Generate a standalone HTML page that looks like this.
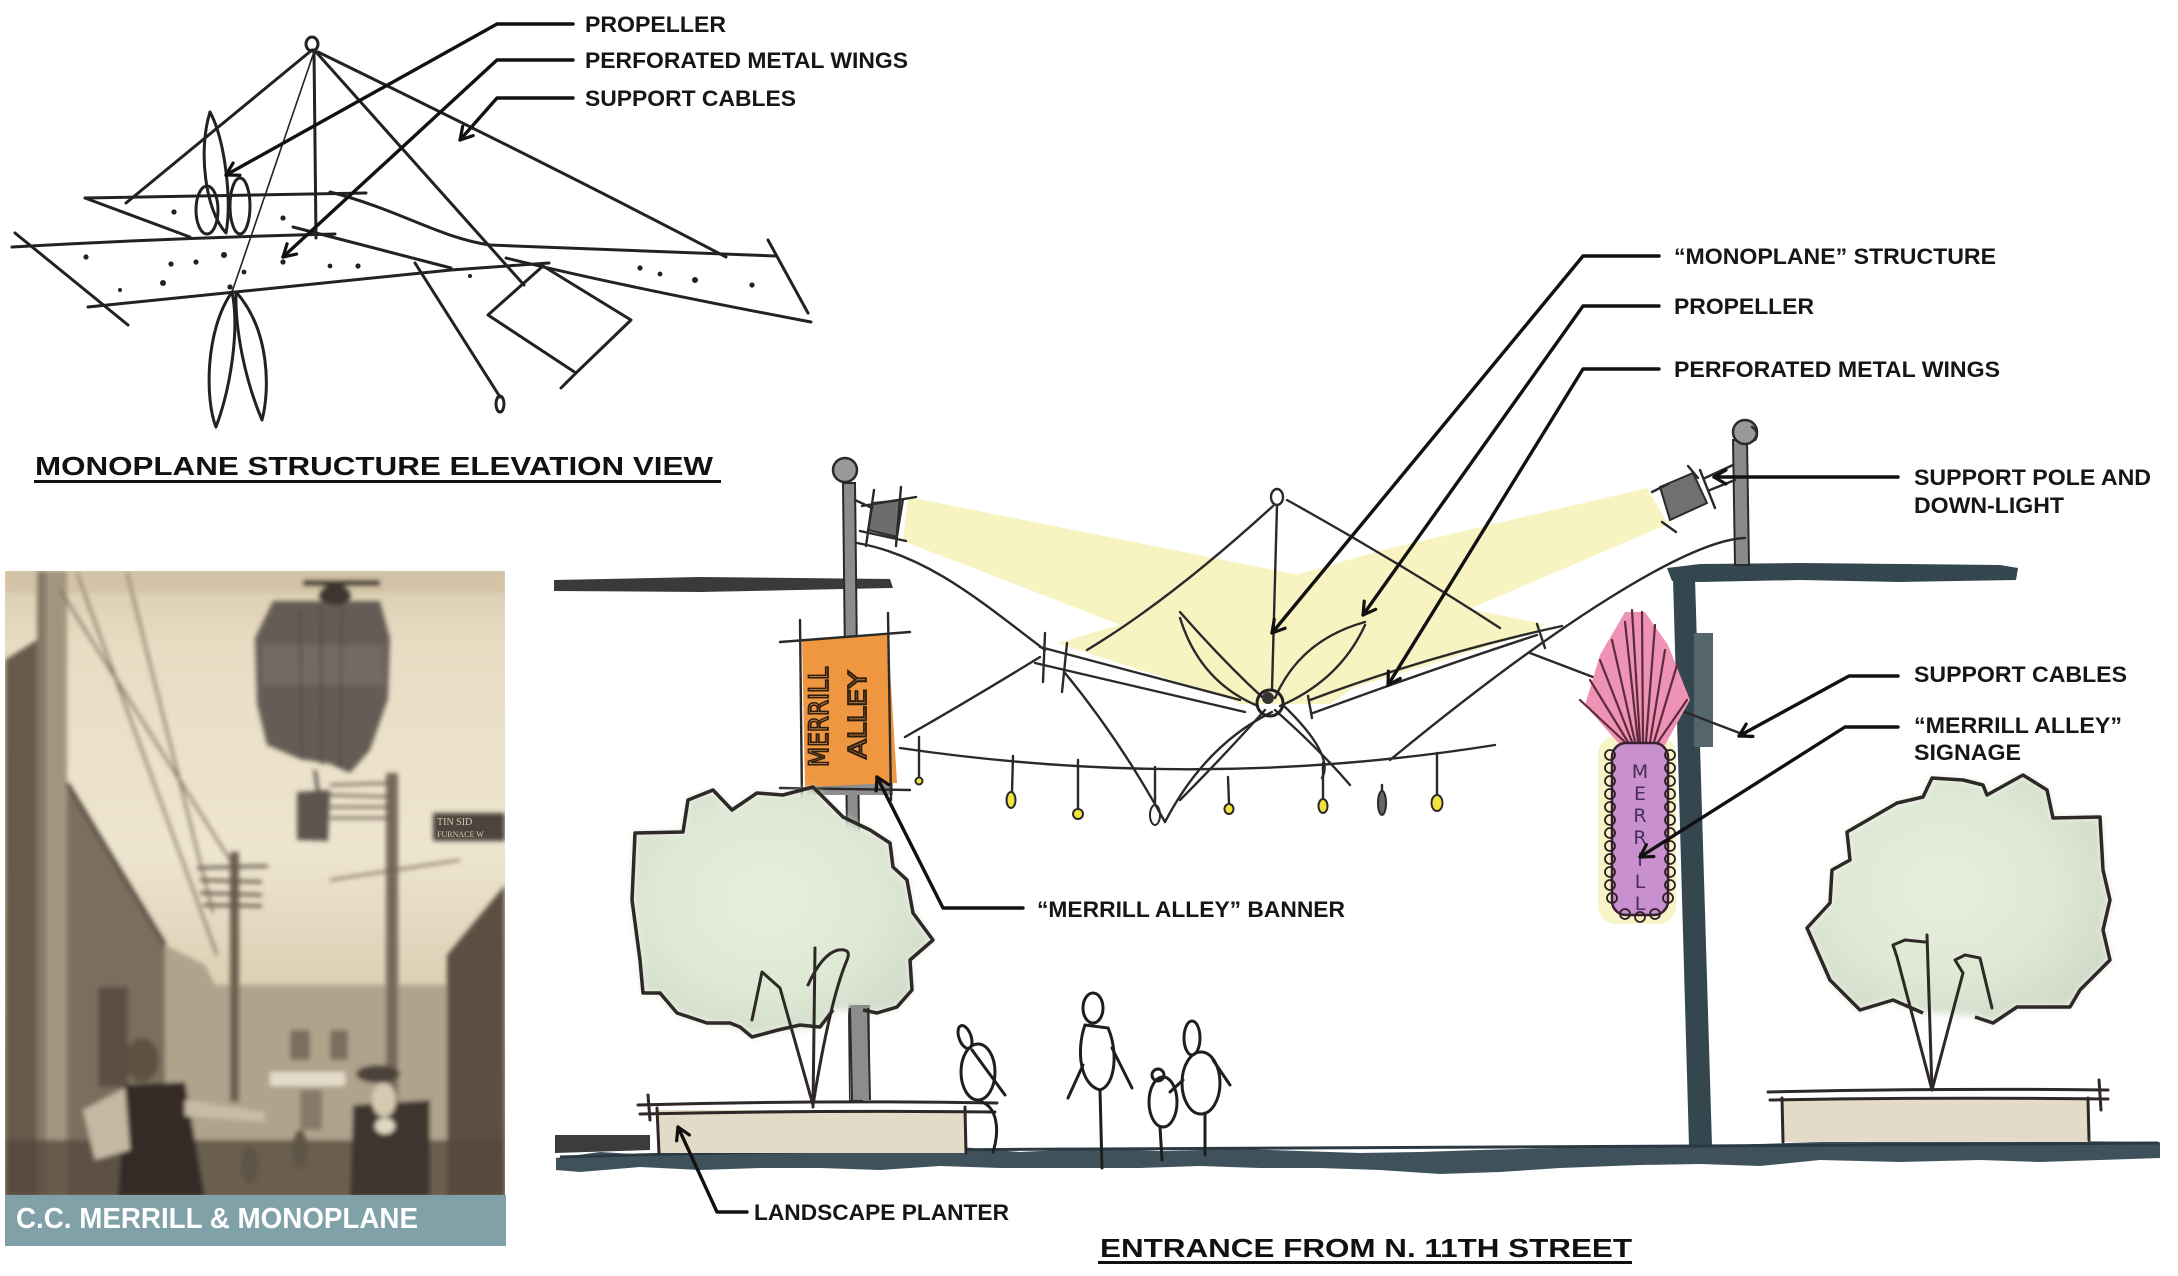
<!DOCTYPE html>
<html>
<head>
<meta charset="utf-8">
<style>
html,body{margin:0;padding:0;background:#fff;}
body{width:2178px;height:1276px;overflow:hidden;}
svg{display:block;}
.lbl{font-family:"Liberation Sans",Arial,sans-serif;font-weight:bold;font-size:22px;fill:#161616;}
.hd{font-family:"Liberation Sans",Arial,sans-serif;font-weight:bold;font-size:26px;fill:#111;}
.sk{fill:none;stroke:#222;stroke-width:3;stroke-linecap:round;stroke-linejoin:round;}
.tn{fill:none;stroke:#2a2a2a;stroke-width:2.4;stroke-linecap:round;stroke-linejoin:round;}
.ld{fill:none;stroke:#111;stroke-width:3.4;stroke-linecap:round;stroke-linejoin:round;}
</style>
</head>
<body>
<svg width="2178" height="1276" viewBox="0 0 2178 1276" xmlns="http://www.w3.org/2000/svg">
<defs>
  <marker id="ah" markerWidth="24" markerHeight="24" refX="15" refY="9" orient="auto" markerUnits="userSpaceOnUse">
    <path d="M3,2 L15,9 L3,16" fill="none" stroke="#111" stroke-width="3.2" stroke-linecap="round" stroke-linejoin="round"/>
  </marker>
  <filter id="soft" x="-5%" y="-5%" width="110%" height="110%"><feGaussianBlur stdDeviation="2.5"/></filter>
  <filter id="soft2" x="-5%" y="-5%" width="110%" height="110%"><feGaussianBlur stdDeviation="4"/></filter>
  <clipPath id="pc"><rect x="5" y="571" width="500" height="624"/></clipPath>
  <linearGradient id="sky" x1="0" y1="0" x2="0" y2="1">
    <stop offset="0" stop-color="#d9cbae"/>
    <stop offset="0.12" stop-color="#e8dcc3"/>
    <stop offset="0.45" stop-color="#eee5cf"/>
    <stop offset="0.7" stop-color="#d8cbb0"/>
    <stop offset="1" stop-color="#a89a82"/>
  </linearGradient>
  <radialGradient id="treeg" cx="0.45" cy="0.45" r="0.6">
    <stop offset="0" stop-color="#e6eedd"/>
    <stop offset="0.6" stop-color="#dfe8d5"/>
    <stop offset="1" stop-color="#d2dbc9"/>
  </radialGradient>
</defs>

<rect width="2178" height="1276" fill="#fff"/>

<!-- ================= TOP-LEFT SKETCH ================= -->
<g class="sk">
  <ellipse cx="312" cy="44" rx="6" ry="7"/>
  <path d="M312,50 L126,203"/>
  <path d="M314,50 L316,238"/>
  <path d="M314,52 L232,292" style="stroke-width:1.6"/>
  <path d="M316,52 L524,285"/>
  <path d="M318,52 Q560,170 726,257"/>
  <path d="M415,263 L500,397"/>
  <ellipse cx="500" cy="404" rx="4" ry="8"/>
  <path d="M85,198 L366,193"/>
  <path d="M85,198 L190,237"/>
  <path d="M12,247 Q170,238 335,234"/>
  <path d="M330,192 C400,210 440,238 490,245 L775,256"/>
  <path d="M88,307 Q300,286 451,270 L549,263"/>
  <path d="M506,258 Q620,286 811,322"/>
  <path d="M768,240 L808,313"/>
  <path d="M15,233 L128,325"/>
  <path d="M293,227 L451,268"/>
  <path d="M543,266 L631,320 L576,373 L488,315 Z"/>
  <path d="M576,373 L561,388"/>
  <path d="M210,112 C198,150 205,210 226,233 C232,200 225,140 210,112"/>
  <ellipse cx="207" cy="210" rx="11" ry="24"/>
  <ellipse cx="240" cy="206" rx="10" ry="28"/>
  <path d="M232,292 C205,330 205,400 216,427 C230,390 240,330 232,292"/>
  <path d="M236,292 C270,330 270,390 262,420 C245,380 235,330 236,292"/>
</g>
<g fill="#222">
  <circle cx="86" cy="257" r="2.6"/><circle cx="171" cy="264" r="2.6"/><circle cx="163" cy="283" r="3"/>
  <circle cx="196" cy="262" r="2.6"/><circle cx="224" cy="255" r="3"/><circle cx="244" cy="272" r="2.4"/>
  <circle cx="230" cy="287" r="2.6"/><circle cx="283" cy="262" r="2.6"/><circle cx="330" cy="266" r="2.4"/>
  <circle cx="358" cy="266" r="2.6"/><circle cx="470" cy="276" r="2"/><circle cx="640" cy="268" r="2.6"/>
  <circle cx="660" cy="274" r="2.4"/><circle cx="695" cy="280" r="3"/><circle cx="752" cy="285" r="2.6"/>
  <circle cx="174" cy="212" r="2.6"/><circle cx="283" cy="218" r="2.6"/><circle cx="120" cy="290" r="2"/>
</g>
<path class="ld" d="M573,24 L497,24 L226,175" marker-end="url(#ah)"/>
<path class="ld" d="M573,60 L497,60 L283,257" marker-end="url(#ah)"/>
<path class="ld" d="M573,98 L497,98 L460,140" marker-end="url(#ah)"/>
<text class="lbl" x="585" y="32" textLength="141" lengthAdjust="spacingAndGlyphs">PROPELLER</text>
<text class="lbl" x="585" y="68" textLength="323" lengthAdjust="spacingAndGlyphs">PERFORATED METAL WINGS</text>
<text class="lbl" x="585" y="106" textLength="211" lengthAdjust="spacingAndGlyphs">SUPPORT CABLES</text>

<text class="hd" x="35" y="475" textLength="678" lengthAdjust="spacingAndGlyphs">MONOPLANE STRUCTURE ELEVATION VIEW</text>
<rect x="34" y="480" width="687" height="3" fill="#111"/>

<!-- ================= PHOTO ================= -->
<g clip-path="url(#pc)">
  <rect x="5" y="571" width="500" height="624" fill="url(#sky)"/>
  <g filter="url(#soft)">
    <rect x="5" y="571" width="500" height="22" fill="#cdbd9e" opacity="0.6"/>
    <polygon points="5,660 37,640 37,1197 5,1197" fill="#665a4c"/>
    <rect x="37" y="571" width="30" height="626" fill="#a19581"/>
    <rect x="37" y="571" width="9" height="626" fill="#857868"/>
    <polygon points="67,783 165,945 165,1197 67,1197" fill="#7a6e5e"/>
    <line x1="67" y1="783" x2="165" y2="945" stroke="#4f453a" stroke-width="4"/>
    <rect x="98" y="987" width="30" height="100" fill="#5a4f43"/>
    <polygon points="165,945 205,965 215,985 450,985 450,1197 165,1197" fill="#b0a38c"/>
    <rect x="290" y="1030" width="20" height="30" fill="#7a6e5f"/>
    <rect x="330" y="1030" width="18" height="30" fill="#7a6e5f"/>
    <rect x="300" y="1090" width="22" height="40" fill="#857967"/>
    <rect x="270" y="1072" width="75" height="14" fill="#e4dccb"/>
    <polygon points="447,955 505,885 505,1197 447,1197" fill="#5b4f43"/>
    <rect x="433" y="813" width="72" height="28" fill="#4b443d"/>
    <rect x="230" y="852" width="9" height="250" fill="#6a5e50"/>
    <g stroke="#5f5446" stroke-width="3">
      <line x1="197" y1="868" x2="268" y2="866"/><line x1="200" y1="880" x2="262" y2="882"/>
      <line x1="200" y1="893" x2="262" y2="895"/><line x1="203" y1="905" x2="262" y2="906"/>
    </g>
    <rect x="386" y="773" width="12" height="424" fill="#75695a"/>
    <g stroke="#6d6152" stroke-width="2.5">
      <line x1="330" y1="785" x2="392" y2="783"/><line x1="330" y1="795" x2="392" y2="797"/>
      <line x1="330" y1="807" x2="392" y2="807"/><line x1="330" y1="818" x2="392" y2="818"/>
    </g>
    <g stroke="#6d6152" stroke-width="2">
      <line x1="77" y1="573" x2="217" y2="955"/><line x1="127" y1="573" x2="213" y2="913"/>
      <line x1="60" y1="590" x2="230" y2="860"/><line x1="330" y1="880" x2="460" y2="860"/>
    </g>
    <polygon points="273,601 380,601 390,638 388,699 370,750 350,773 330,764 300,759 267,745 257,704 255,638" fill="#655d55"/>
    <rect x="262" y="645" width="122" height="40" fill="#7d756b" opacity="0.6"/>
    <g stroke="#4a433c" stroke-width="1.6">
      <line x1="300" y1="610" x2="302" y2="760"/><line x1="320" y1="606" x2="322" y2="765"/>
      <line x1="342" y1="606" x2="340" y2="768"/>
    </g>
    <line x1="315" y1="770" x2="318" y2="792" stroke="#4a433c" stroke-width="3"/>
    <polygon points="297,792 330,790 328,841 297,840" fill="#5d554d"/>
    <line x1="303" y1="583" x2="380" y2="583" stroke="#3e362f" stroke-width="6"/>
    <ellipse cx="335" cy="595" rx="16" ry="10" fill="#3e362f"/>
    <rect x="5" y="1140" width="500" height="57" fill="#54483c" opacity="0.75"/>
    <ellipse cx="142" cy="1060" rx="17" ry="22" fill="#5e5143"/>
    <polygon points="125,1085 185,1082 205,1197 118,1197" fill="#352c25"/>
    <polygon points="83,1110 125,1088 130,1150 95,1160" fill="#c4b8a2"/>
    <polygon points="185,1100 265,1112 265,1122 185,1116" fill="#c9bca5"/>
    <polygon points="353,1105 430,1100 430,1197 350,1197" fill="#3f362e"/>
    <ellipse cx="378" cy="1074" rx="22" ry="9" fill="#4d433a"/>
    <ellipse cx="384" cy="1100" rx="12" ry="17" fill="#d6c9b0"/>
    <ellipse cx="385" cy="1126" rx="10" ry="8" fill="#e0d6c2"/>
    <ellipse cx="300" cy="1150" rx="8" ry="20" fill="#5f5446"/>
    <ellipse cx="330" cy="1160" rx="7" ry="18" fill="#6a5e50"/>
    <ellipse cx="250" cy="1165" rx="9" ry="20" fill="#5f5446"/>
  </g>
  <text x="437" y="825" font-family="Liberation Serif,serif" font-size="10" fill="#d8ccb5">TIN SID</text>
  <text x="437" y="837" font-family="Liberation Serif,serif" font-size="8" fill="#d8ccb5">FURNACE W</text>
</g>
<rect x="5" y="1195" width="501" height="51" fill="#7fa1a7"/>
<text x="16" y="1228" font-family="Liberation Sans,Arial,sans-serif" font-weight="bold" font-size="29" fill="#fff" textLength="402" lengthAdjust="spacingAndGlyphs">C.C. MERRILL &amp; MONOPLANE</text>

<!-- ================= MAIN SCENE ================= -->
<polygon points="908,497 1545,624 1535,632 1300,704 1240,704 1123,626 903,541" fill="#f8f4c2"/>
<polygon points="1647,488 1668,524 1465,611 1330,704 1245,704 1057,643 1383,550" fill="#f8f4c2"/>

<polygon points="554,580 700,577 890,579 893,588 700,592 554,591" fill="#3a3a3a"/>

<polygon points="1667,568 1700,564 1800,563 1900,564 2000,565 2018,568 2016,580 1900,582 1800,580 1700,582 1672,581" fill="#34474f"/>
<polygon points="1673,578 1695,578 1712,1146 1689,1146" fill="#34474f"/>
<rect x="1694" y="633" width="19" height="114" fill="#55656c"/>
<polygon points="1733,440 1747,440 1749,565 1735,565" fill="#8a8a8a" stroke="#2a2a2a" stroke-width="2"/>
<circle cx="1745" cy="432" r="12" fill="#999" stroke="#2a2a2a" stroke-width="2.5"/>
<path class="tn" d="M1752,427 Q1760,432 1755,440"/>
<polygon points="1660,487 1693,473 1707,503 1670,520" fill="#707070" stroke="#2a2a2a" stroke-width="2"/>
<g class="tn">
  <path d="M1652,492 L1668,484"/><path d="M1662,522 L1676,532"/><path d="M1688,466 L1698,478"/>
  <path d="M1705,478 L1733,465"/><path d="M1710,490 L1735,480"/><path d="M1700,470 L1715,508"/>
</g>

<polygon points="843,483 855,483 862,1100 850,1100" fill="#8c8c8c" stroke="#2a2a2a" stroke-width="2"/>
<circle cx="845" cy="470" r="12" fill="#999" stroke="#2a2a2a" stroke-width="2.5"/>
<polygon points="873,503 903,500 897,537 868,530" fill="#6d6d6d" stroke="#2a2a2a" stroke-width="2"/>
<g class="tn">
  <path d="M862,506 L916,497"/><path d="M860,531 L906,541"/><path d="M874,490 L866,546"/><path d="M901,487 L896,546"/>
  <path d="M855,500 L872,508"/>
</g>

<g class="tn">
  <path d="M857,543 C930,556 985,605 1045,650"/>
  <ellipse cx="1277" cy="497" rx="6" ry="8"/>
  <path d="M1277,505 L1272,690"/>
  <path d="M1273,506 Q1170,600 1087,650"/>
  <path d="M1287,500 Q1395,560 1500,628"/>
  <path d="M1040,647 L1240,700"/>
  <path d="M1035,663 L1245,712"/>
  <path d="M1045,633 L1043,682"/><path d="M1067,643 L1062,692"/>
  <path d="M1310,700 Q1430,655 1562,626"/>
  <path d="M1313,713 Q1430,670 1537,635"/>
  <path d="M1537,624 L1545,648"/><path d="M1308,696 L1312,718"/>
  <path d="M1180,612 Q1222,660 1262,697"/>
  <path d="M1180,618 Q1200,682 1258,706"/>
  <path d="M1275,698 Q1300,640 1365,622"/>
  <path d="M1280,706 Q1340,680 1365,625"/>
  <path d="M1265,710 Q1220,760 1180,800"/>
  <path d="M1272,712 Q1205,745 1165,822"/>
  <path d="M1275,710 Q1320,750 1350,785"/>
  <path d="M1283,705 Q1335,755 1322,778"/>
  <path d="M1065,673 Q1120,740 1165,822"/>
  <path d="M905,737 Q970,700 1040,657"/>
  <path d="M900,748 Q1200,792 1495,745"/>
  <path d="M1745,538 C1690,540 1560,620 1390,760"/>
  <path d="M1530,653 L1750,737"/>
</g>
<circle cx="1270" cy="703" r="13" fill="none" stroke="#222" stroke-width="3"/>
<circle cx="1268" cy="698" r="6" fill="#333"/>

<g class="tn">
  <path d="M919,737 L919,778"/><path d="M1013,756 L1012,792"/><path d="M1078,760 L1078,809"/>
  <path d="M1155,767 L1155,805"/><path d="M1228,777 L1229,803"/><path d="M1323,763 L1323,798"/>
  <path d="M1382,785 L1382,803"/><path d="M1437,753 L1437,795"/>
</g>
<g stroke="#2a2a2a" stroke-width="2">
  <circle cx="919" cy="781" r="3.5" fill="#f2e43a"/>
  <ellipse cx="1011" cy="800" rx="4.5" ry="8" fill="#f2e43a"/>
  <ellipse cx="1078" cy="814" rx="5" ry="5" fill="#f2e43a"/>
  <ellipse cx="1155" cy="815" rx="5" ry="10" fill="none"/>
  <ellipse cx="1229" cy="809" rx="4.5" ry="5" fill="#f2e43a"/>
  <ellipse cx="1323" cy="806" rx="4.5" ry="7" fill="#f2e43a"/>
  <ellipse cx="1382" cy="803" rx="4" ry="12" fill="#666"/>
  <ellipse cx="1437" cy="803" rx="5.5" ry="8" fill="#f2e43a"/>
</g>

<rect x="807" y="783" width="86" height="12" fill="#8e8e8e"/>
<polygon points="802,640 888,635 897,783 805,787" fill="#ef9641"/>
<g class="tn">
  <path d="M780,642 L910,632"/><path d="M780,788 L910,790"/>
  <path d="M800,620 L802,803"/><path d="M888,613 L891,800"/>
</g>
<text transform="translate(828,717) rotate(-90)" text-anchor="middle" font-family="DejaVu Sans,sans-serif" font-size="27" fill="none" stroke="#2a1d12" stroke-width="1.8" textLength="100" lengthAdjust="spacingAndGlyphs">MERRILL</text>
<text transform="translate(866,715) rotate(-90)" text-anchor="middle" font-family="DejaVu Sans,sans-serif" font-size="25" fill="none" stroke="#2a1d12" stroke-width="1.8" textLength="88" lengthAdjust="spacingAndGlyphs">ALLEY</text>

<rect x="1598" y="736" width="78" height="188" rx="18" fill="#f7f4c8"/>
<polygon points="1585,705 1600,655 1625,612 1645,612 1668,645 1690,700 1665,745 1620,745" fill="#ee93b5"/>
<g stroke="#5e2a3c" stroke-width="2.2" stroke-linecap="round">
  <line x1="1625" y1="742" x2="1580" y2="700"/><line x1="1628" y1="742" x2="1590" y2="680"/>
  <line x1="1632" y1="742" x2="1600" y2="660"/><line x1="1635" y1="742" x2="1612" y2="640"/>
  <line x1="1638" y1="742" x2="1625" y2="622"/><line x1="1640" y1="742" x2="1632" y2="610"/>
  <line x1="1643" y1="742" x2="1642" y2="612"/><line x1="1646" y1="742" x2="1655" y2="625"/>
  <line x1="1650" y1="742" x2="1665" y2="650"/><line x1="1654" y1="742" x2="1677" y2="665"/>
  <line x1="1658" y1="742" x2="1687" y2="700"/>
</g>
<rect x="1612" y="743" width="56" height="172" rx="14" fill="#c990d0" stroke="#3a2030" stroke-width="2.5"/>
<g fill="none" stroke="#2d2020" stroke-width="1.8">
  <circle cx="1610" cy="755" r="5"/><circle cx="1610" cy="768" r="5"/><circle cx="1610" cy="781" r="5"/>
  <circle cx="1610" cy="794" r="5"/><circle cx="1610" cy="807" r="5"/><circle cx="1610" cy="820" r="5"/>
  <circle cx="1610" cy="833" r="5"/><circle cx="1610" cy="846" r="5"/><circle cx="1610" cy="859" r="5"/>
  <circle cx="1610" cy="872" r="5"/><circle cx="1610" cy="885" r="5"/><circle cx="1612" cy="898" r="5"/>
  <circle cx="1670" cy="755" r="5"/><circle cx="1670" cy="768" r="5"/><circle cx="1670" cy="781" r="5"/>
  <circle cx="1670" cy="794" r="5"/><circle cx="1670" cy="807" r="5"/><circle cx="1670" cy="820" r="5"/>
  <circle cx="1670" cy="833" r="5"/><circle cx="1670" cy="846" r="5"/><circle cx="1670" cy="859" r="5"/>
  <circle cx="1670" cy="872" r="5"/><circle cx="1670" cy="885" r="5"/><circle cx="1668" cy="898" r="5"/>
  <circle cx="1625" cy="914" r="5"/><circle cx="1640" cy="917" r="5"/><circle cx="1655" cy="914" r="5"/>
</g>
<g font-family="DejaVu Sans,sans-serif" font-size="19" fill="#4a2d57" text-anchor="middle">
  <text x="1640" y="778">M</text><text x="1640" y="800">E</text><text x="1640" y="822">R</text>
  <text x="1640" y="844">R</text><text x="1640" y="866">I</text><text x="1640" y="888">L</text>
  <text x="1640" y="910">L</text>
</g>

<path d="M635,833 L683,832 L688,800 L713,790 L732,810 L757,793 L783,795 L813,787 L843,817 L870,830 L890,843 L893,867 L907,880 L913,913 L933,940 L910,960 L912,990 L897,1007 L877,1013 L860,1010 L835,1010 L820,1027 L778,1030 L752,1037 L740,1027 L707,1023 L677,1013 L660,993 L643,993 L640,960 L632,900 Z" fill="url(#treeg)" filter="url(#soft2)"/>
<rect x="850" y="1005" width="20" height="95" fill="#8c8c8c"/>
<path d="M850,1008 L852,1100 M868,1008 L870,1100" stroke="#2a2a2a" stroke-width="2" fill="none"/>
<path d="M863,1010 L877,1013 L897,1007 L912,990 L910,960 L933,940 L913,913 L907,880 L893,867 L890,843 L870,830 L843,817 L813,787 L783,795 L757,793 L732,810 L713,790 L688,800 L683,832 L635,833 L632,900 L640,960 L643,993 L660,993 L677,1013 L707,1023 L730,1023 L740,1027 L752,1037 L778,1030 L800,1025 L820,1027 L833,1010" fill="none" stroke="#2e2826" stroke-width="3.5" stroke-linejoin="round"/>
<g fill="none" stroke="#2e2826" stroke-width="3" stroke-linecap="round" stroke-linejoin="round">
  <path d="M813,1107 L815,948"/>
  <path d="M813,1105 L780,988 L762,972 L752,1020"/>
  <path d="M813,1105 Q830,1000 847,960 Q852,948 838,950 Q822,954 808,985"/>
</g>

<path d="M1807,928 L1830,903 L1832,870 L1850,860 L1847,832 L1897,803 L1923,797 L1932,778 L1963,780 L1983,785 L1987,795 L2023,775 L2047,790 L2053,818 L2100,817 L2103,870 L2110,900 L2103,930 L2110,960 L2080,990 L2070,1007 L2017,1007 L1993,1023 L1970,1015 L1923,1013 L1893,1000 L1860,1010 L1830,980 Z" fill="url(#treeg)" filter="url(#soft2)"/>
<path d="M1975,1017 L1993,1023 L2017,1007 L2070,1007 L2080,990 L2110,960 L2103,930 L2110,900 L2103,870 L2100,817 L2053,818 L2047,790 L2023,775 L1987,795 L1983,785 L1963,780 L1932,778 L1923,797 L1897,803 L1847,832 L1850,860 L1832,870 L1830,903 L1807,928 L1830,980 L1860,1010 L1893,1000 L1923,1013" fill="none" stroke="#2e2826" stroke-width="3.5" stroke-linejoin="round"/>
<g fill="none" stroke="#2e2826" stroke-width="3" stroke-linecap="round" stroke-linejoin="round">
  <path d="M1932,1090 L1927,935"/>
  <path d="M1932,1090 L1897,957 L1893,945 L1905,940 L1925,942"/>
  <path d="M1932,1090 L1963,973 L1955,960 L1965,955 L1980,958 L1992,1008"/>
</g>

<polygon points="555,1135 650,1135 650,1150 555,1153" fill="#3d3c3a"/>
<polygon points="556,1158 600,1152 650,1155 700,1149 760,1153 820,1150 900,1151 960,1147 1020,1152 1100,1148 1160,1151 1240,1149 1300,1151 1360,1153 1420,1152 1480,1150 1560,1148 1620,1146 1700,1146 1760,1144 1820,1142 1900,1141 1980,1140 2060,1141 2160,1142 2160,1158 2100,1160 2040,1162 1980,1160 1900,1162 1820,1160 1760,1166 1700,1164 1640,1165 1560,1168 1500,1172 1440,1174 1380,1170 1320,1168 1260,1168 1200,1166 1140,1168 1080,1168 1000,1168 940,1166 880,1170 820,1168 760,1168 700,1170 640,1167 580,1172 556,1170" fill="#3f525c"/>
<path d="M560,1157 Q800,1150 1100,1149 T1700,1146 T2158,1143" fill="none" stroke="#2b3a42" stroke-width="3"/>

<rect x="657" y="1110" width="308" height="43" fill="#e3dac8"/>
<g fill="none" stroke="#2e2826" stroke-width="3" stroke-linecap="round">
  <path d="M638,1105 Q820,1100 997,1103"/><path d="M640,1114 Q820,1110 995,1112"/>
  <path d="M657,1108 L659,1153"/><path d="M965,1107 L966,1153"/><path d="M648,1095 L650,1120"/>
</g>
<rect x="1782" y="1100" width="306" height="42" fill="#e3dac8"/>
<g fill="none" stroke="#2e2826" stroke-width="3" stroke-linecap="round">
  <path d="M1768,1092 Q1940,1088 2108,1090"/><path d="M1770,1100 Q1940,1097 2108,1099"/>
  <path d="M1782,1098 L1783,1142"/><path d="M2088,1098 L2089,1140"/><path d="M2099,1080 L2101,1110"/>
</g>

<g fill="none" stroke="#1e1e1e" stroke-width="3" stroke-linecap="round">
  <ellipse cx="965" cy="1037" rx="6" ry="12" transform="rotate(-20 965 1037)"/>
  <ellipse cx="978" cy="1072" rx="17" ry="28"/>
  <path d="M972,1050 L1005,1095"/>
  <path d="M982,1102 C997,1108 1000,1130 993,1152"/>
  <ellipse cx="1093" cy="1008" rx="10" ry="15"/>
  <path d="M1085,1025 C1076,1050 1080,1085 1100,1090 C1116,1085 1118,1050 1108,1028 Z"/>
  <path d="M1083,1065 L1068,1098"/><path d="M1112,1048 L1132,1088"/>
  <path d="M1100,1090 L1102,1168"/>
  <circle cx="1158" cy="1075" r="6"/>
  <ellipse cx="1163" cy="1102" rx="14" ry="25"/>
  <path d="M1160,1127 L1162,1160"/>
  <ellipse cx="1192" cy="1038" rx="8" ry="17"/>
  <ellipse cx="1201" cy="1083" rx="19" ry="31"/>
  <path d="M1213,1060 L1230,1085"/><path d="M1183,1080 L1170,1092"/>
  <path d="M1205,1113 L1205,1155"/>
</g>

<path class="ld" d="M1659,256 L1583,256 L1272,633" marker-end="url(#ah)"/>
<path class="ld" d="M1659,306 L1583,306 L1363,615" marker-end="url(#ah)"/>
<path class="ld" d="M1659,369 L1583,369 L1388,685" marker-end="url(#ah)"/>
<path class="ld" d="M1898,477 L1714,477" marker-end="url(#ah)"/>
<path class="ld" d="M1898,676 L1849,676 L1739,736" marker-end="url(#ah)"/>
<path class="ld" d="M1898,727 L1845,727 L1640,857" marker-end="url(#ah)"/>
<path class="ld" d="M1023,908 L943,908 L877,777" marker-end="url(#ah)"/>
<path class="ld" d="M747,1212 L717,1212 L678,1127" marker-end="url(#ah)"/>

<text class="lbl" x="1674" y="264" textLength="322" lengthAdjust="spacingAndGlyphs">&#8220;MONOPLANE&#8221; STRUCTURE</text>
<text class="lbl" x="1674" y="314" textLength="140" lengthAdjust="spacingAndGlyphs">PROPELLER</text>
<text class="lbl" x="1674" y="377" textLength="326" lengthAdjust="spacingAndGlyphs">PERFORATED METAL WINGS</text>
<text class="lbl" x="1914" y="485" textLength="237" lengthAdjust="spacingAndGlyphs">SUPPORT POLE AND</text>
<text class="lbl" x="1914" y="513" textLength="150" lengthAdjust="spacingAndGlyphs">DOWN-LIGHT</text>
<text class="lbl" x="1914" y="682" textLength="213" lengthAdjust="spacingAndGlyphs">SUPPORT CABLES</text>
<text class="lbl" x="1914" y="733" textLength="208" lengthAdjust="spacingAndGlyphs">&#8220;MERRILL ALLEY&#8221;</text>
<text class="lbl" x="1914" y="760" textLength="107" lengthAdjust="spacingAndGlyphs">SIGNAGE</text>
<text class="lbl" x="1037" y="917" textLength="308" lengthAdjust="spacingAndGlyphs">&#8220;MERRILL ALLEY&#8221; BANNER</text>
<text class="lbl" x="754" y="1220" textLength="255" lengthAdjust="spacingAndGlyphs">LANDSCAPE PLANTER</text>

<text class="hd" x="1100" y="1257" textLength="532" lengthAdjust="spacingAndGlyphs">ENTRANCE FROM N. 11TH STREET</text>
<rect x="1098" y="1261" width="534" height="3" fill="#111"/>
</svg>
</body>
</html>
